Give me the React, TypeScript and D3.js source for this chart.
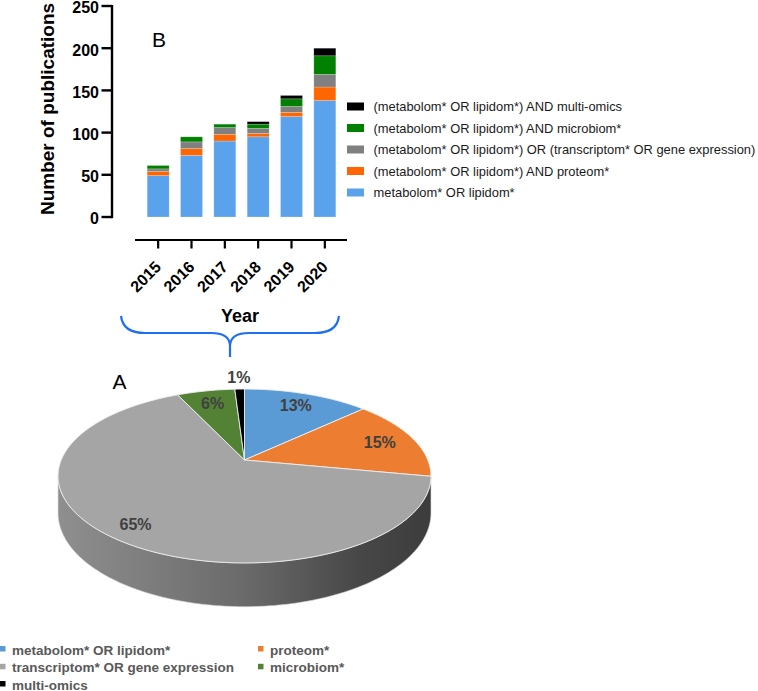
import React from 'react';
import * as d3 from 'd3';

// ---------- Bar chart data (B) ----------
const years = ['2015', '2016', '2017', '2018', '2019', '2020'];
const metabolomLipidom = [49, 73, 90, 95, 119, 138];
const andProteom = [5, 8, 8, 4, 5, 16];
const orTranscriptom = [3, 8, 8, 6, 7, 15];
const andMicrobiom = [4, 6, 4, 5, 9, 22];
const andMultiOmics = [0, 0, 0, 3, 4, 9];
const barSeriesNames = [
  'metabolom* OR lipidom*',
  '(metabolom* OR lipidom*) AND proteom*',
  '(metabolom* OR lipidom*) OR (transcriptom* OR gene expression)',
  '(metabolom* OR lipidom*) AND microbiom*',
  '(metabolom* OR lipidom*) AND multi-omics',
];
const yTicks = [0, 50, 100, 150, 200, 250];

// ---------- Pie chart data (A) ----------
const pieCategories = [
  'metabolom* OR lipidom*',
  'proteom*',
  'transcriptom* OR gene expression',
  'microbiom*',
  'multi-omics',
];
const pieValues = [13, 15, 65, 6, 1];

// ---------- styles ----------
const barColors = ['#5aa3ec', '#ff6600', '#808080', '#008000', '#000000'];
const pieColors = ['#5b9bd5', '#ed7d31', '#a5a5a5', '#548235', '#000000'];
const FONT = "'Liberation Sans', Arial, sans-serif";

export default function App() {
  // ----- bar chart geometry -----
  const y = d3.scaleLinear().domain([0, 250]).range([217, 6]);
  const x = d3.scaleBand<string>().domain(years).range([141.5, 341.5]).paddingInner(0.34).paddingOuter(0.17);

  const table = years.map((yr, i) => ({
    year: yr,
    s0: metabolomLipidom[i],
    s1: andProteom[i],
    s2: orTranscriptom[i],
    s3: andMicrobiom[i],
    s4: andMultiOmics[i],
  }));
  const stack = d3.stack<any>().keys(['s0', 's1', 's2', 's3', 's4'])(table);

  // ----- pie geometry (perspective-projected 3D pie) -----
  const CX = 244.5, CY = 460, R = 183.3, S = 84, P = 0.184, H = 35.7;
  const proj = (phi: number, r: number): [number, number] => {
    const X = r * Math.sin(phi), Z = r * Math.cos(phi);
    const d = 1 + P * Z;
    return [CX + (R * X) / d, CY - (S * Z) / d];
  };
  const projBottom = (phi: number): [number, number] => {
    const [px, py] = proj(phi, 1);
    const Z = Math.cos(phi);
    return [px, py + H / (1 + P * Z)];
  };
  const arcs = d3.pie<number>().sort(null)(pieValues);
  const line = d3.line();
  const slicePath = (a0: number, a1: number) => {
    const n = Math.max(4, Math.ceil(((a1 - a0) / (2 * Math.PI)) * 240));
    const pts: [number, number][] = [[CX, CY]];
    for (let k = 0; k <= n; k++) pts.push(proj(a0 + ((a1 - a0) * k) / n, 1));
    return line(pts) + 'Z';
  };
  const phiR = Math.acos(-P);
  const phiL = 2 * Math.PI - phiR;
  const sidePts: [number, number][] = [];
  const NS = 200;
  for (let k = 0; k <= NS; k++) sidePts.push(proj(phiR + ((phiL - phiR) * k) / NS, 1));
  for (let k = NS; k >= 0; k--) sidePts.push(projBottom(phiR + ((phiL - phiR) * k) / NS));
  const sidePath = line(sidePts) + 'Z';

  const labelPos = (a: any) => {
    const mid = (a.startAngle + a.endAngle) / 2;
    const r = a.value < 3 ? 1.2 : a.index === 2 ? 0.85 : 0.8;
    return proj(mid, r);
  };

  // legend layout for pie
  const legendCols = [0, 258];
  const legendRows = [654.5, 672.3, 689.5];

  return (
    <svg width={758} height={691} style={{ position: 'absolute', left: 0, top: 0, background: '#fff' }} fontFamily={FONT}>
      <defs>
        <linearGradient id="sideGrad" x1="0" x2="1" y1="0" y2="0">
          <stop offset="0%" stopColor="#8f8f8f" />
          <stop offset="50%" stopColor="#6a6a6a" />
          <stop offset="80%" stopColor="#484848" />
          <stop offset="100%" stopColor="#3c3c3c" />
        </linearGradient>
      </defs>

      {/* ===== Bar chart ===== */}
      <text x={152} y={47} fontSize={21} fill="#000">B</text>

      {stack.map((layer, si) => (
        <g key={si} fill={barColors[si]}>
          {layer.map((d, i) => {
            const h = y(d[0]) - y(d[1]);
            if (h <= 0) return null;
            return (
              <rect key={i} x={x(years[i])} y={y(d[1])} width={x.bandwidth()} height={h}
                stroke="#ffffff" strokeOpacity={0.35} strokeWidth={0.6} />
            );
          })}
        </g>
      ))}

      {/* y axis */}
      <line x1={112} x2={112} y1={y(250) - 1} y2={y(0) + 1.2} stroke="#000" strokeWidth={2.4} />
      {yTicks.map((t) => (
        <g key={t}>
          <line x1={101.5} x2={112} y1={y(t)} y2={y(t)} stroke="#000" strokeWidth={2.4} />
          <text x={99} y={y(t)} dy="0.46em" textAnchor="end" fontSize={16} fontWeight="bold">{t}</text>
        </g>
      ))}
      <text transform={`translate(54,109) rotate(-90)`} textAnchor="middle" fontSize={19} fontWeight="bold">
        Number of publications
      </text>

      {/* x axis */}
      <line x1={135} x2={347} y1={240} y2={240} stroke="#000" strokeWidth={2.2} />
      {years.map((yr) => {
        const cx = (x(yr) as number) + x.bandwidth() / 2;
        return (
          <g key={yr}>
            <line x1={cx} x2={cx} y1={240} y2={248.5} stroke="#000" strokeWidth={2.2} />
            <text transform={`translate(${cx + 4},268) rotate(-45)`} textAnchor="end" fontSize={16} fontWeight="bold">
              {yr}
            </text>
          </g>
        );
      })}
      <text x={240} y={322} textAnchor="middle" fontSize={18} fontWeight="bold">Year</text>

      {/* bar legend */}
      {barSeriesNames.map((name, i) => {
        const row = 4 - i;
        const cy = 106.5 + row * 21.5;
        return (
          <g key={name}>
            <rect x={347} y={cy - 4} width={17} height={8} fill={barColors[i]} />
            <text x={373.5} y={cy + 4.5} fontSize={12.9} fill="#1a1a1a">{name}</text>
          </g>
        );
      })}

      {/* brace */}
      <path
        d="M121,316 Q123,333 145,333 L211,333 Q229,333 230,345 L230,357 M339,316 Q337,333 315,333 L249,333 Q231,333 230,345"
        fill="none" stroke="#1f6ff0" strokeWidth={2.2} />

      {/* ===== Pie chart ===== */}
      <text x={112.5} y={388.5} fontSize={21} fill="#000">A</text>
      <path d={sidePath} fill="url(#sideGrad)" stroke="#d8d8d8" strokeWidth={0.6} />
      {arcs.map((a, i) => (
        <path key={i} d={slicePath(a.startAngle, a.endAngle)} fill={pieColors[i]} stroke="#eeeeee" strokeWidth={0.9} strokeLinejoin="round" />
      ))}
      {arcs.map((a, i) => {
        const [lx, ly] = labelPos(a);
        return (
          <text key={i} x={lx} y={ly} dy="0.36em" textAnchor="middle" fontSize={16} fontWeight="bold" fill="#404040">
            {`${pieValues[i]}%`}
          </text>
        );
      })}

      {/* pie legend */}
      {pieCategories.map((c, i) => {
        const col = legendCols[i % 2];
        const by = legendRows[Math.floor(i / 2)];
        return (
          <g key={c}>
            <rect x={col} y={by - 8.5} width={5.5} height={5.5} fill={pieColors[i]} />
            <text x={col + 12} y={by} fontSize={13.5} fontWeight="bold" fill="#595959">{c}</text>
          </g>
        );
      })}
    </svg>
  );
}
